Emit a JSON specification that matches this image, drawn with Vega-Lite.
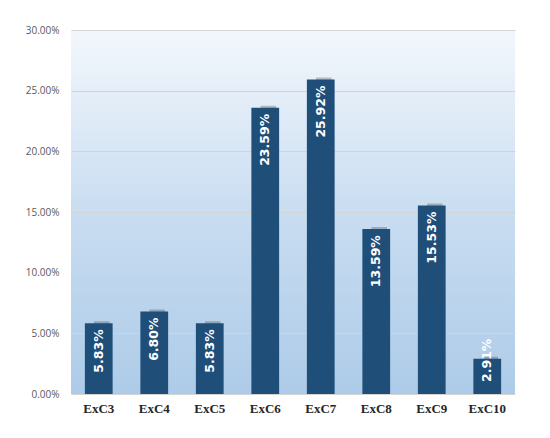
{
  "$schema": "https://vega.github.io/schema/vega-lite/v6.json",
  "width": 444,
  "height": 364,
  "autosize": {"type": "none"},
  "padding": {"left": 71, "top": 30, "right": 35, "bottom": 44},
  "background": "#ffffff",
  "view": {
    "stroke": null,
    "fill": {
      "gradient": "linear",
      "x1": 0, "y1": 0, "x2": 0, "y2": 1,
      "stops": [
        {"offset": 0, "color": "#f3f7fc"},
        {"offset": 0.5, "color": "#c9ddf1"},
        {"offset": 1, "color": "#adcbe8"}
      ]
    }
  },
  "data": {
    "values": [
      {"cat": "ExC3", "value": 0.0583},
      {"cat": "ExC4", "value": 0.0680},
      {"cat": "ExC5", "value": 0.0583},
      {"cat": "ExC6", "value": 0.2359},
      {"cat": "ExC7", "value": 0.2592},
      {"cat": "ExC8", "value": 0.1359},
      {"cat": "ExC9", "value": 0.1553},
      {"cat": "ExC10", "value": 0.0291}
    ]
  },
  "encoding": {
    "x": {
      "field": "cat",
      "type": "nominal",
      "sort": null,
      "scale": {"paddingInner": 0.5, "paddingOuter": 0.25},
      "axis": {
        "title": null,
        "labelAngle": 0,
        "ticks": false,
        "domain": false,
        "labelFont": "Liberation Serif",
        "labelFontWeight": "bold",
        "labelFontSize": 13,
        "labelColor": "#262626",
        "labelPadding": 8
      }
    },
    "y": {
      "field": "value",
      "type": "quantitative",
      "scale": {"domain": [0, 0.3], "nice": false},
      "axis": {
        "title": null,
        "format": ".2%",
        "values": [0, 0.05, 0.1, 0.15, 0.2, 0.25, 0.3],
        "ticks": false,
        "domain": false,
        "labelFont": "Open Sans",
        "labelFontSize": 10,
        "labelColor": "#595959",
        "labelPadding": 12,
        "gridColor": "#d4d4d4",
        "gridWidth": 1
      }
    }
  },
  "layer": [
    {
      "mark": {"type": "bar", "color": "#000000", "opacity": 0.22, "xOffset": 3, "yOffset": -2, "width": {"band": 0.56}}
    },
    {
      "mark": {"type": "bar", "color": "#1f4e79"}
    },
    {
      "transform": [{"filter": "datum.cat !== 'ExC10'"}],
      "mark": {
        "type": "text",
        "angle": 270,
        "align": "right",
        "baseline": "middle",
        "dx": -6,
        "color": "#ffffff",
        "font": "DejaVu Sans",
        "fontWeight": "bold",
        "fontSize": 12.5
      },
      "encoding": {
        "text": {"field": "value", "type": "quantitative", "format": ".2%"}
      }
    },
    {
      "transform": [{"filter": "datum.cat === 'ExC10'"}],
      "mark": {
        "type": "text",
        "angle": 270,
        "align": "left",
        "baseline": "middle",
        "dx": 12,
        "color": "#ffffff",
        "font": "DejaVu Sans",
        "fontWeight": "bold",
        "fontSize": 12.5
      },
      "encoding": {
        "y": {"datum": 0},
        "text": {"field": "value", "type": "quantitative", "format": ".2%"}
      }
    }
  ]
}
